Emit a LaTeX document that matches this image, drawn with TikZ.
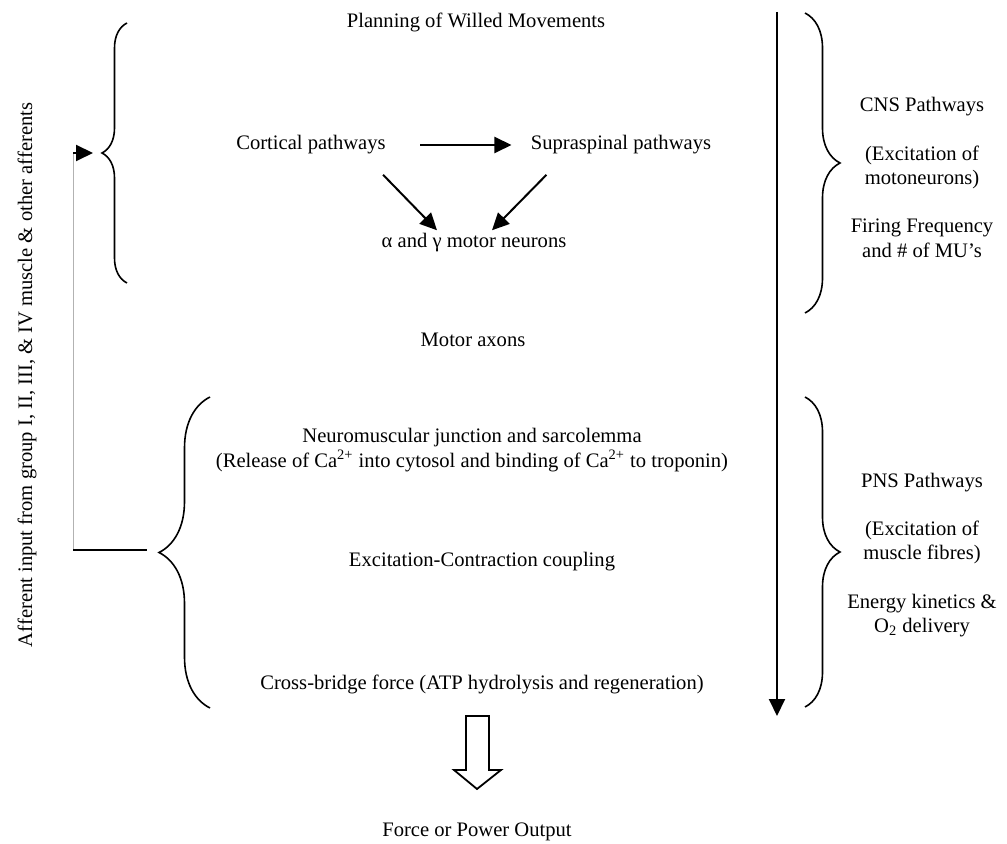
\documentclass[tikz,border=0pt]{standalone}
\usepackage{fontspec}
\setmainfont{Liberation Serif}
\usepackage{tikz}
\usetikzlibrary{
    arrows.meta,
    positioning,
    calc,
    decorations.pathreplacing
}

\begin{document}
\begin{tikzpicture}[
    x=0.5pt, y=-0.5pt,
    txt/.style={
        inner sep=0pt, align=center,
        font=\fontsize{10.3pt}{12.1pt}\selectfont
    },
    arrow/.style={-{Triangle[length=8.5pt, width=8pt]}, line width=1pt},
    curly/.style={decorate, decoration={brace, amplitude=#1}, line width=0.8pt}
]
\useasboundingbox (0,0) rectangle (1007,844);

% Central chain
\node[txt] (plan) at (476, 22) {Planning of Willed Movements};
\node[txt] (cortical) at (311, 145) {Cortical pathways};
\node[txt] (supra) at (621, 145) {Supraspinal pathways};
\node[txt] (motor) at (474, 243) {α and γ motor neurons};
\node[txt] (axons) at (473, 340) {Motor axons};
\node[txt] (nmj) at (472, 450) {Neuromuscular junction and sarcolemma\\(Release of Ca\textsuperscript{2+} into cytosol and binding of Ca\textsuperscript{2+} to troponin)};
\node[txt] (ecc) at (482, 562) {Excitation-Contraction coupling};
\node[txt] (xbridge) at (482, 684) {Cross-bridge force (ATP hydrolysis and regeneration)};
\node[txt] (output) at (477, 832) {Force or Power Output};

% Arrows between pathways
\draw[arrow, shorten <=17pt, shorten >=9.5pt] (cortical) -- (supra);
\draw[arrow] ([shift={(-3,20)}]cortical.south east) -- ([shift={(-37,-3)}]motor.north);
\draw[arrow] ([shift={(16,20)}]supra.south west) -- ([shift={(18,-3)}]motor.north);

% Output arrow
\draw[line width=0.9pt] (466,716) -- (489,716) -- (489,770) -- (501,770) -- (477,789)
    -- (454,770) -- (466,770) -- cycle;

% Afferent feedback
\node[txt, rotate=90] (afferent) at (27, 375) {Afferent input from group I, II, III, \& IV muscle \& other afferents};
\draw[curly=12.5pt] (127,283) -- (127,23);
\draw[curly=25.5pt] (210,708) -- (210,397);
\coordinate (cnsin) at (93,153);
\coordinate (pnsout) at (147,550);
\coordinate (turn1) at (73,153);
\coordinate (turn2) at (73,550);
\draw[gray!60, line width=0.4pt] (turn2) -- (turn1);
\draw[arrow] (turn1) -- (cnsin);
\draw[line width=1pt] (turn2) -- (pnsout);

% Right side
\coordinate (flowtop) at (777,12);
\coordinate (flowend) at (777,716);
\draw[arrow] (flowtop) -- (flowend);
\draw[curly=17.5pt] (805,13) -- (805,313);
\draw[curly=17.5pt] (805,397) -- (805,707);
\node[txt] (cns) at (922, 177.5) {CNS Pathways\\[12.1pt](Excitation of\\motoneurons)\\[12.1pt]Firing Frequency\\and \# of MU’s};
\node[txt] (pns) at (922, 555) {PNS Pathways\\[12.1pt](Excitation of\\muscle fibres)\\[12.1pt]Energy kinetics \&\\O\textsubscript{2} delivery};

\end{tikzpicture}
\end{document}
